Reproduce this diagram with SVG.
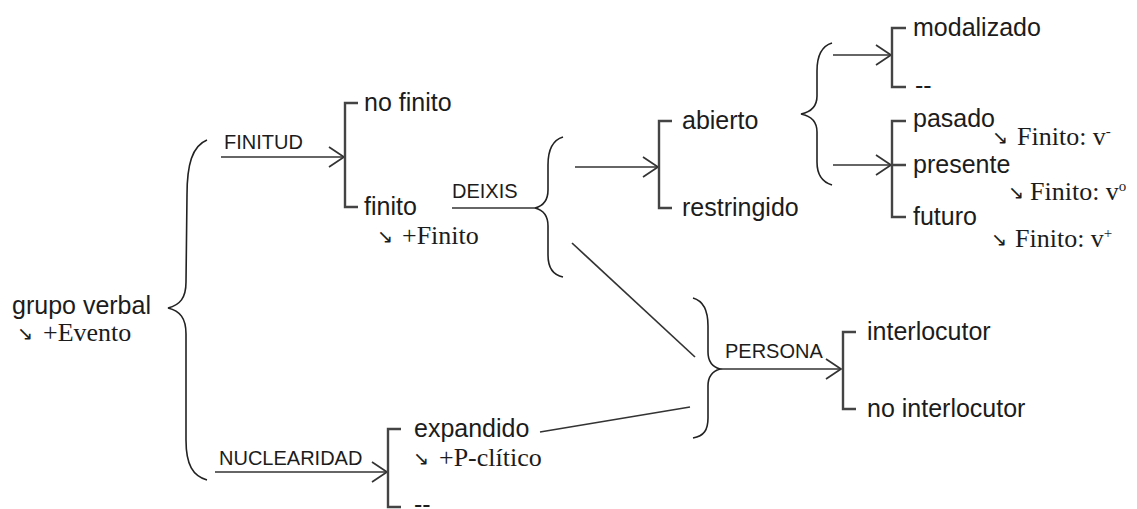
<svg xmlns="http://www.w3.org/2000/svg" width="1137" height="509" viewBox="0 0 1137 509">
<defs>
<style>
.t{font-family:"Liberation Sans",Arial,sans-serif;font-size:25px;fill:#1c1c1c}
.l{font-family:"Liberation Sans",Arial,sans-serif;font-size:20px;fill:#1c1c1c}
.s{font-family:"Liberation Serif","Times New Roman",serif;font-size:26px;fill:#1c1c1c}
.a{font-family:"DejaVu Sans",sans-serif;font-size:19px;fill:#1c1c1c}
.sup{font-size:15px}
.br{fill:none;stroke:#444;stroke-width:2.4}
.cv{fill:none;stroke:#222;stroke-width:1.6}
.ln{fill:none;stroke:#333;stroke-width:1.7}
</style>
<marker id="ah" markerUnits="userSpaceOnUse" markerWidth="18" markerHeight="22" refX="16" refY="11" orient="auto" viewBox="0 0 18 22">
<path d="M1,1 L16,11 L1,21" fill="none" stroke="#333" stroke-width="1.7"/>
</marker>
</defs>
<rect width="1137" height="509" fill="#fff"/>
<g id="connectors">
<path class="cv" d="M207,140 C192,146 187,165 187,195 L186,282 C186,298 180,305 168,308 C180,311 186,318 186,334 L186,440 C186,465 193,476 207,480"/>
<path class="cv" d="M563,137 C553,140 548,150 548,165 L548,190 C548,201 543,206 535,208 C543,210 548,215 548,226 L548,255 C548,268 553,275 563,277"/>
<path class="cv" d="M832,43 C822,46 817,56 817,71 L817,96 C817,107 811,112 801,114 C811,116 817,121 817,132 L817,162 C817,175 822,182 832,185"/>
<path class="cv" d="M693,298 C704,301 708,311 708,326 L708,352 C708,362 713,367 720,369 C713,371 708,376 708,386 L708,418 C708,430 704,436 693,438"/>
<line class="ln" x1="221" y1="157" x2="344" y2="157" marker-end="url(#ah)"/>
<line class="ln" x1="215" y1="472" x2="387" y2="472" marker-end="url(#ah)"/>
<line class="ln" x1="575" y1="167" x2="658" y2="167" marker-end="url(#ah)"/>
<line class="ln" x1="833" y1="55" x2="891" y2="55" marker-end="url(#ah)"/>
<line class="ln" x1="833" y1="165" x2="891" y2="165" marker-end="url(#ah)"/>
<line class="ln" x1="720" y1="369" x2="841" y2="369" marker-end="url(#ah)"/>
<line class="ln" x1="452" y1="208" x2="535" y2="208"/>
<line class="ln" x1="572" y1="243" x2="695" y2="357"/>
<line class="ln" x1="540" y1="432" x2="690" y2="407"/>
<path class="br" d="M358,103 H345 V207 H358"/>
<path class="br" d="M672,121 H659 V208 H672"/>
<path class="br" d="M906,28 H892 V87 H906"/>
<path class="br" d="M906,121 H892 V217 H906 M892,165 H906"/>
<path class="br" d="M856,332 H843 V409 H856"/>
<path class="br" d="M401,429 H388 V507 H401"/>
</g>
<g id="n-grupo-verbal">
<text class="t" x="12" y="314">grupo verbal</text>
<text class="a" x="17" y="340">↘</text><text class="s" x="43" y="341">+Evento</text>
</g>
<g id="l-finitud"><text class="l" x="224" y="149">FINITUD</text></g>
<g id="n-no-finito"><text class="t" x="364" y="111">no finito</text></g>
<g id="n-finito">
<text class="t" x="364" y="215">finito</text>
<text class="a" x="377" y="243">↘</text><text class="s" x="402" y="244">+Finito</text>
</g>
<g id="l-deixis"><text class="l" x="452" y="198">DEIXIS</text></g>
<g id="n-abierto"><text class="t" x="682" y="129">abierto</text></g>
<g id="n-restringido"><text class="t" x="682" y="216">restringido</text></g>
<g id="n-modalizado"><text class="t" x="913" y="36">modalizado</text></g>
<g id="n-dash1"><text class="t" x="915" y="94">--</text></g>
<g id="n-pasado">
<text class="t" x="913" y="127">pasado</text>
<text class="a" x="992" y="144">↘</text><text class="s" x="1017" y="145">Finito: v<tspan class="sup" dy="-9">-</tspan></text>
</g>
<g id="n-presente">
<text class="t" x="913" y="173">presente</text>
<text class="a" x="1008" y="199">↘</text><text class="s" x="1030" y="200">Finito: v<tspan class="sup" dy="-9">o</tspan></text>
</g>
<g id="n-futuro">
<text class="t" x="913" y="225">futuro</text>
<text class="a" x="991" y="246">↘</text><text class="s" x="1015" y="247">Finito: v<tspan class="sup" dy="-9">+</tspan></text>
</g>
<g id="l-persona"><text class="l" x="725" y="358">PERSONA</text></g>
<g id="n-interlocutor"><text class="t" x="867" y="340">interlocutor</text></g>
<g id="n-no-interlocutor"><text class="t" x="867" y="417">no interlocutor</text></g>
<g id="l-nuclearidad"><text class="l" x="219" y="465">NUCLEARIDAD</text></g>
<g id="n-expandido">
<text class="t" x="414" y="437">expandido</text>
<text class="a" x="413" y="465">↘</text><text class="s" x="439" y="466">+P-clítico</text>
</g>
<g id="n-dash2"><text class="t" x="414" y="513">--</text></g>
</svg>
